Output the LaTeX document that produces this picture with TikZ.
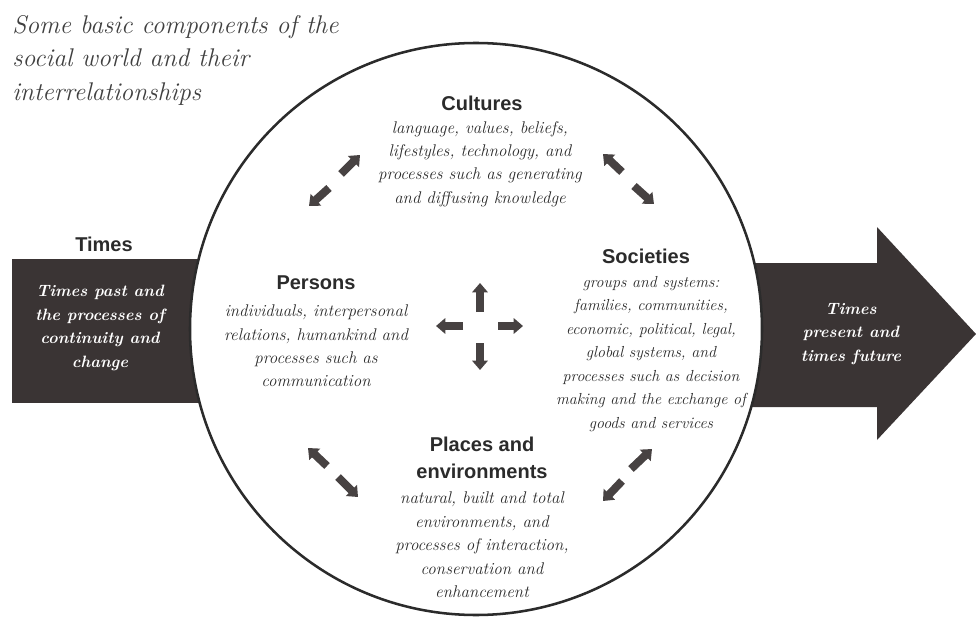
\documentclass[tikz,border=0pt]{standalone}
\usepackage{fontspec}
\setsansfont{Liberation Sans}
\usepackage{tikz}
\usetikzlibrary{arrows.meta}

\definecolor{ink}{HTML}{2B2B2B}
\definecolor{band}{HTML}{3A3434}
\definecolor{arrowgray}{HTML}{474242}

\tikzset{
  heading/.style={inner sep=0pt, align=center, text=ink,
    font=\sffamily\bfseries\fontsize{15}{20}\selectfont},
  blurb/.style={inner sep=0pt, align=center, text=ink,
    font=\itshape\fontsize{12.7}{17.6}\selectfont},
  bandtext/.style={inner sep=0pt, align=center, text=white,
    font=\bfseries\itshape\fontsize{12.3}{17.6}\selectfont},
  twoway/.style={line width=6pt, draw=arrowgray,
    -{Triangle[length=7pt,width=11.5pt]}},
}

\begin{document}
\begin{tikzpicture}[x=0.75pt,y=-0.75pt]
  \useasboundingbox (0,0) rectangle (976,617);

  % time band behind the circle
  \fill[band] (12,259) rectangle (300,403);
  \fill[band] (650,263) -- (877,263) -- (877,227) -- (976,334)
    -- (877,440) -- (877,407) -- (650,407) -- cycle;
  \node (world) [circle, draw=ink, fill=white, line width=1.9pt,
    inner sep=0pt, minimum size=429pt] at (476,329) {};

  \node (title) [anchor=north west, inner sep=0pt, align=left, text=ink!90,
    font=\itshape\fontsize{19.2}{25.1}\selectfont] at (12,15)
    {Some basic components of the\\social world and their\\interrelationships};

  \node (timeslabel) [heading] at (104,244) {Times};
  \node (past) [bandtext] at (100,328)
    {Times past and\\the processes of\\continuity and\\change};
  \node (future) [bandtext] at (851,334)
    {Times\\present and\\times future};

  \node (cultures) [heading] at (482,103) {Cultures};
  \node (culturesnote) [blurb] at (480,164)
    {language, values, beliefs,\\lifestyles, technology, and\\processes such as generating\\and diffusing knowledge};

  \node (societies) [heading] at (646,256) {Societies};
  \node (societiesnote) [blurb, font=\itshape\fontsize{12}{17.6}\selectfont]
    at (651,354)
    {groups and systems:\\families, communities,\\economic, political, legal,\\global systems, and\\processes such as decision\\making and the exchange of\\goods and services};

  \node (persons) [heading] at (316,283) {Persons};
  \node (personsnote) [blurb] at (316,346)
    {individuals, interpersonal\\relations, humankind and\\processes such as\\communication};

  \node (places) [heading] at (482,458) {Places and\\environments};
  \node (placesnote) [blurb] at (482,545)
    {natural, built and total\\environments, and\\processes of interaction,\\conservation and\\enhancement};

  % two-way links between the components
  \foreach \xa/\ya/\xb/\yb in {341/174/360/155, 329/188/309/206,
                     622/172/603/154, 634/186/654/204,
                     327/466/308/448, 338/477/358/497,
                     631/469/652/449, 622/481/603/501,
                     480/312/480/283, 463/326/436/326,
                     498/326/523/326, 480/343/480/370}
    \draw[twoway] (\xa,\ya) -- (\xb,\yb);
\end{tikzpicture}
\end{document}
